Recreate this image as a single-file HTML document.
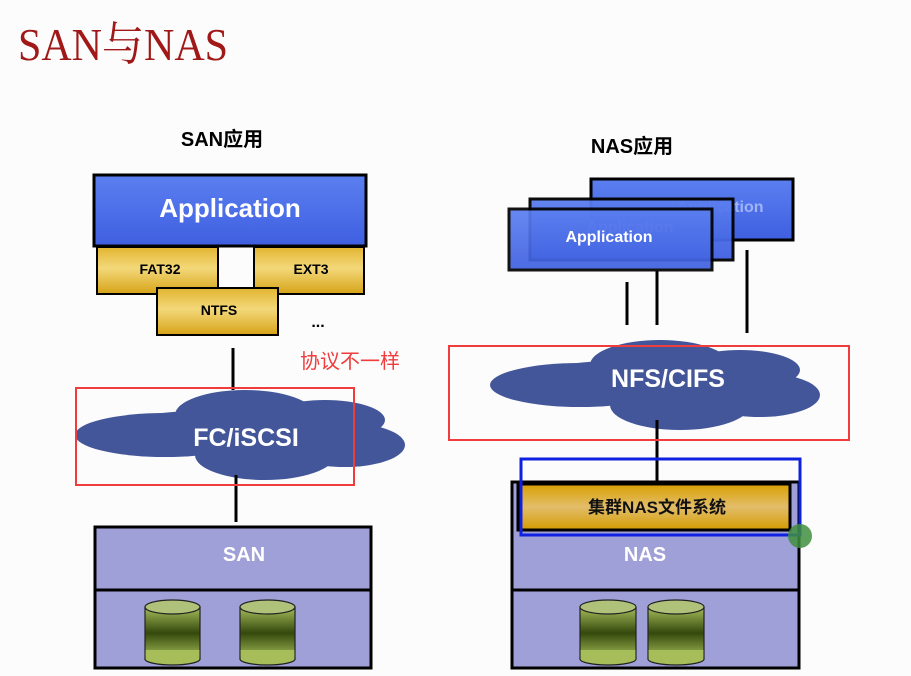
<!DOCTYPE html>
<html><head><meta charset="utf-8"><style>
body{margin:0;background:#fcfcfc;}
svg{display:block}
</style></head><body>
<svg width="911" height="676" viewBox="0 0 911 676" xmlns="http://www.w3.org/2000/svg">
<defs>
<linearGradient id="blue" x1="0" y1="0" x2="0" y2="1"><stop offset="0" stop-color="#5b7ff0"/><stop offset="1" stop-color="#3f5fe0"/></linearGradient>
<linearGradient id="gold" x1="0" y1="0" x2="0" y2="1"><stop offset="0" stop-color="#e2b530"/><stop offset="0.45" stop-color="#f3d87a"/><stop offset="1" stop-color="#d6a317"/></linearGradient>
<linearGradient id="gold2" x1="0" y1="0" x2="0" y2="1"><stop offset="0" stop-color="#d9a000"/><stop offset="0.5" stop-color="#e2bd6a"/><stop offset="1" stop-color="#d49c00"/></linearGradient>
<linearGradient id="cyl" x1="0" y1="0" x2="0" y2="1"><stop offset="0" stop-color="#a6bd5a"/><stop offset="0.5" stop-color="#34490c"/><stop offset="1" stop-color="#a6bd5a"/></linearGradient>
<g id="cloud"><ellipse cx="0" cy="0" rx="120" ry="20"/><ellipse cx="20" cy="-15" rx="70" ry="25"/><ellipse cx="-60" cy="5" rx="90" ry="22"/><ellipse cx="40" cy="25" rx="70" ry="25"/><ellipse cx="120" cy="15" rx="60" ry="22"/><ellipse cx="100" cy="-10" rx="60" ry="20"/></g>
</defs>
<text x="18" y="60" font-family="Liberation Serif, 'Noto Serif CJK SC', serif" font-size="46" fill="#a01818" textLength="210" lengthAdjust="spacingAndGlyphs">SAN与NAS</text>
<g font-family="Liberation Sans, 'Noto Sans CJK SC', sans-serif" font-weight="bold">
<text x="222" y="146" font-size="20" text-anchor="middle" fill="#000">SAN应用</text>
<text x="632" y="153" font-size="20" text-anchor="middle" fill="#000">NAS应用</text>
<rect x="94" y="175" width="272" height="71" fill="url(#blue)" stroke="#000" stroke-width="3"/>
<text x="230" y="217" font-size="26" fill="#fff" text-anchor="middle">Application</text>
<rect x="97" y="247" width="121" height="47" fill="url(#gold)" stroke="#000" stroke-width="2"/>
<text x="160" y="274" font-size="14" text-anchor="middle">FAT32</text>
<rect x="254" y="247" width="110" height="47" fill="url(#gold)" stroke="#000" stroke-width="2"/>
<text x="311" y="274" font-size="14" text-anchor="middle">EXT3</text>
<rect x="157" y="288" width="121" height="47" fill="url(#gold)" stroke="#000" stroke-width="2"/>
<text x="219" y="315" font-size="14" text-anchor="middle">NTFS</text>
<text x="318" y="327" font-size="16" text-anchor="middle">...</text>
<line x1="233" y1="348" x2="233" y2="390" stroke="#000" stroke-width="3"/>
<use href="#cloud" x="225" y="430" fill="#435699"/>
<text x="246" y="446" font-size="25" fill="#fff" text-anchor="middle">FC/iSCSI</text>
<line x1="236" y1="475" x2="236" y2="522" stroke="#000" stroke-width="3"/>
<rect x="76" y="388" width="278" height="97" fill="none" stroke="#f03c3c" stroke-width="2"/>
<text x="350" y="368" font-size="20" font-weight="normal" fill="#f03c3c" text-anchor="middle">协议不一样</text>
<rect x="95" y="527" width="276" height="141" fill="#a0a0d8" stroke="#000" stroke-width="3"/>
<line x1="95" y1="590" x2="371" y2="590" stroke="#000" stroke-width="3"/>
<text x="244" y="561" font-size="20" fill="#fff" text-anchor="middle">SAN</text>
<rect x="591" y="179" width="202" height="61" fill="url(#blue)" stroke="#000" stroke-width="3"/>
<text x="720" y="212" font-size="16" fill="#9fb4f8" text-anchor="middle">Application</text>
<rect x="530" y="199" width="203" height="61" fill="url(#blue)" stroke="#000" stroke-width="3" opacity="0.95"/>
<text x="630" y="232" font-size="16" fill="#93a8f0" text-anchor="middle">Application</text>
<rect x="509" y="209" width="203" height="61" fill="url(#blue)" stroke="#000" stroke-width="3" opacity="0.92"/>
<text x="609" y="242" font-size="16" fill="#fff" text-anchor="middle">Application</text>
<line x1="627" y1="282" x2="627" y2="325" stroke="#000" stroke-width="3"/>
<line x1="657" y1="271" x2="657" y2="325" stroke="#000" stroke-width="3"/>
<line x1="747" y1="250" x2="747" y2="333" stroke="#000" stroke-width="3"/>
<use href="#cloud" x="640" y="380" fill="#435699"/>
<text x="668" y="387" font-size="25" fill="#fff" text-anchor="middle">NFS/CIFS</text>
<line x1="657" y1="420" x2="657" y2="483" stroke="#000" stroke-width="3"/>
<rect x="449" y="346" width="400" height="94" fill="none" stroke="#f03c3c" stroke-width="2"/>
<rect x="512" y="482" width="287" height="186" fill="#a0a0d8" stroke="#000" stroke-width="3"/>
<rect x="518" y="484" width="272" height="46" fill="url(#gold2)" stroke="#000" stroke-width="3"/>
<text x="657" y="513" font-size="17" text-anchor="middle" fill="#111">集群NAS文件系统</text>
<line x1="512" y1="590" x2="799" y2="590" stroke="#000" stroke-width="3"/>
<text x="645" y="561" font-size="20" fill="#fff" text-anchor="middle">NAS</text>
<rect x="521" y="459" width="279" height="76" fill="none" stroke="#1020e0" stroke-width="3"/>
<circle cx="800" cy="536" r="12" fill="#3f8f3f" opacity="0.85"/>
</g>
<g stroke="#222" stroke-width="1.2">
<g transform="translate(145,600)"><rect x="0" y="7" width="55" height="52" fill="url(#cyl)"/><ellipse cx="27.5" cy="59" rx="27.5" ry="6" fill="#a6bd5a"/><rect x="0.6" y="50" width="53.8" height="9" fill="#a6bd5a" stroke="none"/><ellipse cx="27.5" cy="7" rx="27.5" ry="7" fill="#b0c27a"/></g>
<g transform="translate(240,600)"><rect x="0" y="7" width="55" height="52" fill="url(#cyl)"/><ellipse cx="27.5" cy="59" rx="27.5" ry="6" fill="#a6bd5a"/><rect x="0.6" y="50" width="53.8" height="9" fill="#a6bd5a" stroke="none"/><ellipse cx="27.5" cy="7" rx="27.5" ry="7" fill="#b0c27a"/></g>
<g transform="translate(580,600)"><rect x="0" y="7" width="56" height="52" fill="url(#cyl)"/><ellipse cx="28" cy="59" rx="28" ry="6" fill="#a6bd5a"/><rect x="0.6" y="50" width="54.8" height="9" fill="#a6bd5a" stroke="none"/><ellipse cx="28" cy="7" rx="28" ry="7" fill="#b0c27a"/></g>
<g transform="translate(648,600)"><rect x="0" y="7" width="56" height="52" fill="url(#cyl)"/><ellipse cx="28" cy="59" rx="28" ry="6" fill="#a6bd5a"/><rect x="0.6" y="50" width="54.8" height="9" fill="#a6bd5a" stroke="none"/><ellipse cx="28" cy="7" rx="28" ry="7" fill="#b0c27a"/></g>
</g>
</svg>
</body></html>
